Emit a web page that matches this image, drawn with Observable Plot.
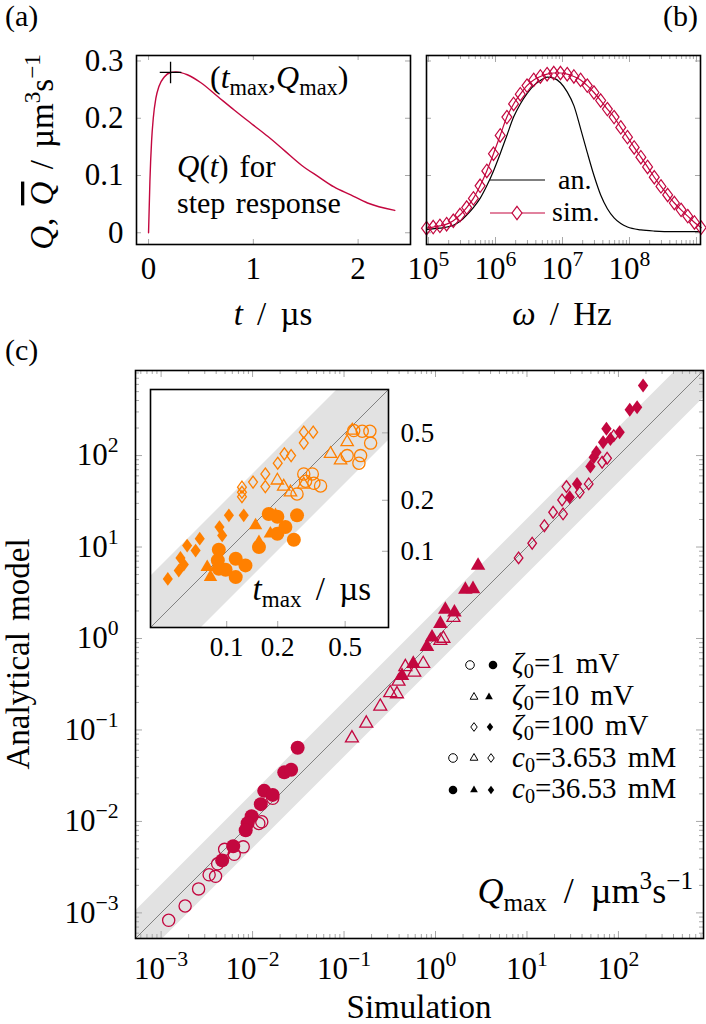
<!DOCTYPE html>
<html><head><meta charset="utf-8">
<script src="https://cdn.jsdelivr.net/npm/d3@7"></script>
<script src="https://cdn.jsdelivr.net/npm/@observablehq/plot@0.6"></script>
<style>
html,body{margin:0;padding:0;background:#fff;}
#wrap{position:relative;width:706px;height:1024px;overflow:hidden;background:#fff;}
</style></head>
<body><div id="wrap"></div>
<script>
const FONT = '"Liberation Serif","Times New Roman",serif';
const CRIMSON = "#c3073f";
const ORANGE = "#ff8000";
const TICK = "#a8a8a8";
const BAND = "#e2e2e2";
const DIAG = "#808080";

// ---------- (a) step response ----------
const stepT = [0, 0.013, 0.029, 0.045, 0.07, 0.1, 0.15, 0.21, 0.26, 0.37, 0.5, 0.66, 0.82, 1.0, 1.14, 1.3, 1.46, 1.62, 1.77, 1.93, 2.09, 2.35];
const stepQ = [0, 0.09, 0.16, 0.2, 0.235, 0.256, 0.272, 0.28, 0.281, 0.276, 0.262, 0.238, 0.214, 0.188, 0.168, 0.143, 0.118, 0.098, 0.080, 0.066, 0.052, 0.039];
const peakT = [0.21];
const peakQ = [0.28];
const aTicksX = [0, 1, 2];
const aTicksY = [0, 0.1, 0.2, 0.3];

// ---------- (b) frequency response ----------
const simLogW = [4.97,5.07,5.17,5.27,5.37,5.47,5.57,5.67,5.77,5.87,5.97,6.07,6.17,6.27,6.37,6.47,6.57,6.67,6.77,6.87,6.97,7.07,7.17,7.27,7.37,7.47,7.57,7.67,7.77,7.87,7.97,8.07,8.17,8.27,8.37,8.47,8.57,8.67,8.77,8.87,8.97,9.07];
const simQ = [0.008,0.010,0.012,0.015,0.021,0.031,0.044,0.060,0.082,0.108,0.138,0.170,0.202,0.225,0.242,0.257,0.267,0.273,0.277,0.279,0.279,0.277,0.273,0.267,0.257,0.245,0.231,0.216,0.202,0.184,0.167,0.149,0.132,0.115,0.097,0.081,0.066,0.052,0.040,0.029,0.018,0.009];
const anLogW = [4.97,5.17,5.37,5.47,5.57,5.67,5.77,5.87,5.97,6.07,6.17,6.27,6.37,6.47,6.57,6.67,6.77,6.87,6.97,7.07,7.17,7.27,7.37,7.47,7.57,7.67,7.77,7.87,7.97,8.17,8.37,8.67,9.06];
const anQ = [0.006,0.008,0.013,0.020,0.031,0.044,0.060,0.082,0.108,0.138,0.170,0.202,0.225,0.243,0.257,0.266,0.272,0.270,0.262,0.246,0.222,0.182,0.140,0.100,0.066,0.042,0.026,0.016,0.010,0.005,0.003,0.002,0.002];
const bTicksY = [0, 0.1, 0.2, 0.3];
const bLabelsX = [1e5, 1e6, 1e7, 1e8];

// ---------- (c) Qmax: [simulation, analytical] ----------
const qCircOpen = [[1.21e-3,8.3e-4],[1.83e-3,1.19e-3],[2.57e-3,1.83e-3],[3.35e-3,2.61e-3],[3.94e-3,2.51e-3],[4.15e-3,3.44e-3],[4.95e-3,4.95e-3],[6.3e-3,4.37e-3],[7.9e-3,5.27e-3],[0.0117,9.5e-3],[0.0126,9.9e-3],[0.0166,0.0179]];
const qCircFill = [[0.0311,0.0638],[0.0222,0.0344],[0.0264,0.0367],[0.0134,0.0216],[0.0166,0.0195],[0.0123,0.01545],[9.77e-3,0.01138],[8.83e-3,9.57e-3],[8.41e-3,8.0e-3],[6.14e-3,5.35e-3],[4.65e-3,3.75e-3]];
const qTriOpen = [[0.122,0.0815],[0.175,0.118],[0.249,0.181],[0.32,0.254],[0.379,0.247],[0.394,0.34],[0.468,0.49],[0.586,0.426],[0.734,0.53],[1.13,0.946],[1.22,1.0],[1.57,1.69]];
const qTriFill = [[0.43,0.392],[0.571,0.53],[0.807,0.813],[0.916,1.03],[1.13,1.45],[1.28,2.07],[1.61,1.93],[2.12,3.42],[2.57,3.48],[2.92,6.26]];
const qDiaOpen = [[8.1,7.6],[11.4,11.0],[15.5,17.1],[19.3,24.0],[24.2,32.7],[24.8,23.0],[27.0,45.8],[37.8,39.6],[47.3,49.0],[66.3,84.5],[75.2,93.4],[88.9,165]];
const qDiaFill = [[29.3,35.0],[35.3,49.0],[49.4,75.8],[53.7,95.7],[57.4,108.7],[68,140],[73.9,196],[81.7,152],[103,180],[133,316],[160,338],[186,583]];
const cLabelsX = [1e-3, 1e-2, 1e-1, 1, 10, 100];
const cLabelsY = [1e-3, 1e-2, 1e-1, 1, 10, 100];

// ---------- inset tmax: [simulation, analytical] ----------
const tCircOpen = [[0.562,0.516],[0.631,0.511],[0.70,0.511],[0.707,0.435],[0.514,0.367],[0.617,0.367],[0.603,0.331],[0.285,0.286],[0.32,0.286],[0.292,0.259],[0.327,0.252],[0.358,0.243],[0.26,0.218]];
const tTriOpen = [[0.551,0.516],[0.514,0.441],[0.41,0.376],[0.47,0.344],[0.199,0.262],[0.217,0.241],[0.238,0.223],[0.285,0.248]];
const tDiaOpen = [[0.285,0.505],[0.324,0.505],[0.285,0.435],[0.219,0.376],[0.24,0.367],[0.2,0.331],[0.169,0.286],[0.143,0.256],[0.169,0.241],[0.123,0.239],[0.123,0.223],[0.123,0.21]];
const tCircFill = [[0.177,0.166],[0.199,0.16],[0.26,0.163],[0.222,0.139],[0.199,0.127],[0.249,0.117],[0.155,0.106],[0.0898,0.102],[0.0886,0.0883],[0.113,0.0903],[0.129,0.0825],[0.113,0.0704],[0.0985,0.0778],[0.0898,0.0788]];
const tTriFill = [[0.148,0.142],[0.181,0.127],[0.155,0.113],[0.194,0.163],[0.0767,0.0805],[0.0802,0.0704]];
const tDiaFill = [[0.103,0.163],[0.126,0.163],[0.0906,0.139],[0.094,0.124],[0.0693,0.1186],[0.0584,0.108],[0.0655,0.101],[0.0533,0.0914],[0.0558,0.0835],[0.0449,0.0687],[0.0521,0.0769]];
const insetTicks = [0.1, 0.2, 0.5];
const insetTickLabels = ["0.1", "0.2", "0.5"];

// ---------- helpers ----------
const wrap = document.getElementById("wrap");
function place(svg, left, top) {
  svg.style.position = "absolute";
  svg.style.left = left + "px";
  svg.style.top = top + "px";
  wrap.appendChild(svg);
}
function diamondSym(k) {
  return { draw(ctx, size) {
    const y = Math.sqrt(size / (2 * k)), x = k * y;
    ctx.moveTo(0, -y); ctx.lineTo(x, 0); ctx.lineTo(0, y); ctx.lineTo(-x, 0); ctx.closePath();
  }};
}
const DIAMOND = diamondSym(0.74);
function logTicks(lo, hi, majorOnly) {
  const out = [];
  for (let e = Math.floor(lo); e <= Math.ceil(hi); e++)
    for (let m = 1; m < 10; m++) {
      if (majorOnly && m !== 1) continue;
      const v = m * Math.pow(10, e), l = Math.log10(v);
      if (l >= lo - 1e-9 && l <= hi + 1e-9) out.push(v);
    }
  return out;
}
const supFmt = d => { const e = Math.round(Math.log10(d)); return "10^" + (e < 0 ? "\u2212" + (-e) : String(e)); };
function supAxis(svg) {
  d3.select(svg).selectAll("text").each(function() {
    const m = /^10\^(.+)$/.exec(this.textContent);
    if (m) {
      this.textContent = "";
      const s = d3.select(this);
      s.append("tspan").text("10");
      s.append("tspan").attr("dy", "-0.6em").attr("font-size", "0.7em").text(m[1]);
    }
  });
}
function ticksX(vals, len, H, top, bottom) {
  const r = [];
  if (bottom) r.push(Plot.tickX(vals, {x: d => d, insetTop: H - len, stroke: TICK}));
  if (top) r.push(Plot.tickX(vals, {x: d => d, insetBottom: H - len, stroke: TICK}));
  return r;
}
function ticksY(vals, len, W, left, right) {
  const r = [];
  if (left) r.push(Plot.tickY(vals, {y: d => d, insetRight: W - len, stroke: TICK}));
  if (right) r.push(Plot.tickY(vals, {y: d => d, insetLeft: W - len, stroke: TICK}));
  return r;
}
const style = (fs) => ({fontFamily: FONT, fontSize: fs + "px", background: "transparent", overflow: "visible"});

// ---------- panel (a) ----------
{
  const W = 274, H = 189;
  const stepData = stepT.map((t, i) => ({t, q: stepQ[i]}));
  const peak = peakT.map((t, i) => ({t, q: peakQ[i]}));
  const p = Plot.plot({
    width: 415, height: 340, marginLeft: 136, marginRight: 5, marginTop: 55, marginBottom: 96,
    x: {domain: [-0.115, 2.5], label: null},
    y: {domain: [-0.0205, 0.3096], label: null},
    style: style(31),
    marks: [
      ...ticksX(aTicksX, 5, H, true, true),
      ...ticksY(aTicksY, 5, W, true, true),
      Plot.line(stepData, {x: "t", y: "q", stroke: CRIMSON, strokeWidth: 1.4, curve: "monotone-x"}),
      Plot.dot(peak, {x: "t", y: "q", symbol: "plus", r: 7, stroke: "black", strokeWidth: 1.3}),
      Plot.axisX(aTicksX, {tickSize: 0, tickPadding: 12, tickFormat: d => String(d)}),
      Plot.axisY(aTicksY, {tickSize: 0, tickPadding: 13, tickFormat: d => d === 0 ? "0" : d.toFixed(1)}),
      Plot.frame({stroke: "black", strokeWidth: 1.6})
    ]
  });
  place(p, 0, 0);
}

// ---------- panel (b) ----------
{
  const W = 274, H = 189;
  const lo = 4.97, hi = 9.06;
  const sim = simLogW.map((l, i) => ({w: Math.pow(10, l), q: simQ[i]}));
  const an = anLogW.map((l, i) => ({w: Math.pow(10, l), q: anQ[i]}));
  const major = logTicks(lo, hi, true), all = logTicks(lo, hi, false);
  const minor = all.filter(v => !major.includes(v));
  const p = Plot.plot({
    width: 291, height: 340, marginLeft: 11, marginRight: 6, marginTop: 55, marginBottom: 96,
    x: {type: "log", domain: [Math.pow(10, lo), Math.pow(10, hi)], label: null},
    y: {domain: [-0.0205, 0.3096], label: null, axis: null},
    style: style(31),
    marks: [
      ...ticksX(major, 7, H, true, true),
      ...ticksX(minor, 4, H, true, true),
      ...ticksY(bTicksY, 5, W, true, true),
      Plot.line(an, {x: "w", y: "q", stroke: "black", strokeWidth: 1.2, curve: "monotone-x"}),
      Plot.line(sim, {x: "w", y: "q", stroke: CRIMSON, strokeWidth: 1.2, curve: "monotone-x"}),
      Plot.dot(sim, {x: "w", y: "q", symbol: DIAMOND, r: 4.6, stroke: CRIMSON, strokeWidth: 1.2, fill: "none"}),
      Plot.axisX(bLabelsX, {tickSize: 0, tickPadding: 12, tickFormat: supFmt}),
      Plot.frame({stroke: "black", strokeWidth: 1.6})
    ]
  });
  supAxis(p);
  place(p, 415, 0);
}

// ---------- panel (c) ----------
{
  const W = 568, H = 568;
  const lo = -3.28, hi = 2.93;
  const xmin = Math.pow(10, lo), xmax = Math.pow(10, hi);
  const band = [{x: xmin, lo: xmin / 2, hi: xmin * 2}, {x: xmax, lo: xmax / 2, hi: xmax * 2}];
  const diag = [{x: xmin, y: xmin}, {x: xmax, y: xmax}];
  const major = logTicks(lo, hi, true), all = logTicks(lo, hi, false);
  const minor = all.filter(v => !major.includes(v));
  const groups = [
    [qCircOpen, "circle", 6.1, true], [qCircFill, "circle", 7.0, false],
    [qTriOpen, "triangle", 4.8, true], [qTriFill, "triangle", 5.4, false],
    [qDiaOpen, DIAMOND, 4.0, true], [qDiaFill, DIAMOND, 4.8, false]
  ];
  const dots = groups.map(([data, symbol, r, open]) =>
    Plot.dot(data, {x: d => d[0], y: d => d[1], symbol, r,
      fill: open ? "none" : CRIMSON, stroke: CRIMSON, strokeWidth: open ? 1.3 : 0}));
  const p = Plot.plot({
    width: 706, height: 684, marginLeft: 135, marginRight: 3, marginTop: 30, marginBottom: 86,
    x: {type: "log", domain: [xmin, xmax], label: null},
    y: {type: "log", domain: [xmin, xmax], label: null},
    style: style(31),
    marks: [
      Plot.areaY(band, {x: "x", y1: "lo", y2: "hi", fill: BAND, clip: true}),
      Plot.line(diag, {x: "x", y: "y", stroke: DIAG, strokeWidth: 1, clip: true}),
      ...ticksX(major, 7, H, true, true),
      ...ticksX(minor, 4, H, true, true),
      ...ticksY(major, 7, W, true, true),
      ...ticksY(minor, 4, W, true, true),
      ...dots,
      Plot.axisX(cLabelsX, {tickSize: 0, tickPadding: 18, tickFormat: supFmt}),
      Plot.axisY(cLabelsY, {tickSize: 0, tickPadding: 17, tickFormat: supFmt}),
      Plot.frame({stroke: "black", strokeWidth: 1.6})
    ]
  });
  supAxis(p);
  place(p, 0, 340);
}

// ---------- inset ----------
{
  const W = 238, H = 238;
  const lo = -1.45, hi = -0.045;
  const xmin = Math.pow(10, lo), xmax = Math.pow(10, hi);
  const band = [{x: xmin, lo: xmin / 2, hi: xmin * 2}, {x: xmax, lo: xmax / 2, hi: xmax * 2}];
  const diag = [{x: xmin, y: xmin}, {x: xmax, y: xmax}];
  const groups = [
    [tCircOpen, "circle", 6.1, true], [tTriOpen, "triangle", 4.6, true], [tDiaOpen, DIAMOND, 4.1, true],
    [tCircFill, "circle", 7.0, false], [tTriFill, "triangle", 5.0, false], [tDiaFill, DIAMOND, 4.7, false]
  ];
  const dots = groups.map(([data, symbol, r, open]) =>
    Plot.dot(data, {x: d => d[0], y: d => d[1], symbol, r,
      fill: open ? "none" : ORANGE, stroke: ORANGE, strokeWidth: open ? 1.3 : 0}));
  const p = Plot.plot({
    width: 300, height: 280, marginLeft: 10, marginRight: 52, marginTop: 9, marginBottom: 33,
    x: {type: "log", domain: [xmin, xmax], label: null, axis: null},
    y: {type: "log", domain: [xmin, xmax], label: null, axis: null},
    style: style(27),
    marks: [
      Plot.frame({fill: "white", stroke: "none"}),
      Plot.areaY(band, {x: "x", y1: "lo", y2: "hi", fill: BAND, clip: true}),
      Plot.line(diag, {x: "x", y: "y", stroke: DIAG, strokeWidth: 1, clip: true}),
      ...ticksX(insetTicks, 6, H, false, true),
      ...ticksY(insetTicks, 6, W, false, true),
      ...dots,
      Plot.text(insetTicks, {x: d => d, frameAnchor: "bottom", lineAnchor: "top", dy: 9, text: (d, i) => insetTickLabels[i]}),
      Plot.text(insetTicks, {y: d => d, frameAnchor: "right", textAnchor: "start", dx: 12, text: (d, i) => insetTickLabels[i]}),
      Plot.frame({stroke: "black", strokeWidth: 1.6})
    ]
  });
  place(p, 140, 380);
}

// ---------- annotations (text, legends) ----------
const ann = d3.create("svg").attr("width", 706).attr("height", 1024)
  .attr("font-family", FONT).style("position", "absolute").style("left", "0px").style("top", "0px")
  .style("overflow", "visible").style("pointer-events", "none");

function rich(x, y, parts, {anchor = "start", size = 29, rotate = null, ws = 0, subShift = 0.22} = {}) {
  const t = ann.append("text").attr("x", x).attr("y", y).attr("font-size", size).attr("text-anchor", anchor).attr("fill", "black");
  if (ws) t.attr("word-spacing", ws);
  if (rotate != null) t.attr("transform", `rotate(${rotate},${x},${y})`);
  let shift = 0;
  for (const p of parts) {
    const o = typeof p === "string" ? {t: p} : p;
    const target = o.sub ? subShift * size : o.sup ? -0.4 * size : 0;
    const ts = t.append("tspan").text(o.t);
    if (target !== shift) { ts.attr("dy", target - shift); shift = target; }
    if (o.sub || o.sup) ts.attr("font-size", size * 0.7);
    if (o.i) ts.attr("font-style", "italic");
    if (o.over) ts.attr("text-decoration", "overline");
  }
  return t;
}

rich(5, 26, ["(a)"], {size: 30});
rich(698, 26, ["(b)"], {size: 30, anchor: "end"});
rich(5, 360, ["(c)"], {size: 30});

rich(53, 152, [{t: "Q", i: 1}, ", ", {t: "Q", i: 1, over: 1}, " / µm", {t: "3", sup: 1}, "s", {t: "\u22121", sup: 1}], {anchor: "middle", size: 33, rotate: -90, ws: 4});
rich(273, 325, [{t: "t", i: 1}, " / µs"], {anchor: "middle", size: 33, ws: 6});
rich(562, 325, [{t: "ω", i: 1}, " / Hz"], {anchor: "middle", size: 33, ws: 6});

rich(210, 88, ["(", {t: "t", i: 1}, {t: "max", sub: 1}, ",", {t: "Q", i: 1}, {t: "max", sub: 1}, ")"], {size: 32});
rich(177, 177, [{t: "Q", i: 1}, "(", {t: "t", i: 1}, ") for"], {size: 31, ws: 3});
rich(177, 213, ["step response"], {size: 30, ws: 3});

// panel (b) legend
ann.append("line").attr("x1", 490).attr("x2", 545).attr("y1", 180).attr("y2", 180).attr("stroke", "black").attr("stroke-width", 1.2);
rich(558, 189, ["an."], {size: 28});
ann.append("line").attr("x1", 490).attr("x2", 545).attr("y1", 213).attr("y2", 213).attr("stroke", CRIMSON).attr("stroke-width", 1.2);
ann.append("path").attr("d", d3.symbol().type(DIAMOND).size(Math.PI * 4.6 * 4.6)()).attr("transform", "translate(517,213)")
  .attr("fill", "white").attr("stroke", CRIMSON).attr("stroke-width", 1.2);
rich(552, 221, ["sim."], {size: 28});

// main axis titles
rich(29, 654, ["Analytical model"], {anchor: "middle", size: 33, rotate: -90, ws: 3});
rich(419, 1018, ["Simulation"], {anchor: "middle", size: 33});
rich(693, 903, [{t: "Q", i: 1}, {t: "max", sub: 1}, " / µm", {t: "3", sup: 1}, "s", {t: "\u22121", sup: 1}], {anchor: "end", size: 36, ws: 8});
rich(371, 600, [{t: "t", i: 1}, {t: "max", sub: 1}, " / µs"], {anchor: "end", size: 33, ws: 6});

// main legend
const legSym = {
  circle: d3.symbol().type(d3.symbolCircle).size(Math.PI * 4.3 * 4.3)(),
  triangle: d3.symbol().type(d3.symbolTriangle).size(26)(),
  diamond: d3.symbol().type(DIAMOND).size(28)()
};
function legMark(kind, filled, x, y) {
  ann.append("path").attr("d", legSym[kind]).attr("transform", `translate(${x},${y})`)
    .attr("fill", filled ? "black" : "none").attr("stroke", "black").attr("stroke-width", filled ? 0 : 1);
}
legMark("circle", false, 470, 665); legMark("circle", true, 493, 665);
legMark("triangle", false, 474, 697); legMark("triangle", true, 489, 697);
legMark("diamond", false, 474, 727); legMark("diamond", true, 490, 727);
legMark("circle", false, 453, 758); legMark("triangle", false, 474, 758); legMark("diamond", false, 491, 758);
legMark("circle", true, 453, 790); legMark("triangle", true, 474, 790); legMark("diamond", true, 491, 790);
const legOpt = {size: 29, ws: 4, subShift: 0.16};
rich(512, 673, [{t: "ζ", i: 1}, {t: "0", sub: 1}, "=1 mV"], legOpt);
rich(512, 705, [{t: "ζ", i: 1}, {t: "0", sub: 1}, "=10 mV"], legOpt);
rich(512, 735, [{t: "ζ", i: 1}, {t: "0", sub: 1}, "=100 mV"], legOpt);
rich(512, 767, [{t: "c", i: 1}, {t: "0", sub: 1}, "=3.653 mM"], legOpt);
rich(512, 798, [{t: "c", i: 1}, {t: "0", sub: 1}, "=36.53 mM"], legOpt);

wrap.appendChild(ann.node());
</script>
</body></html>
